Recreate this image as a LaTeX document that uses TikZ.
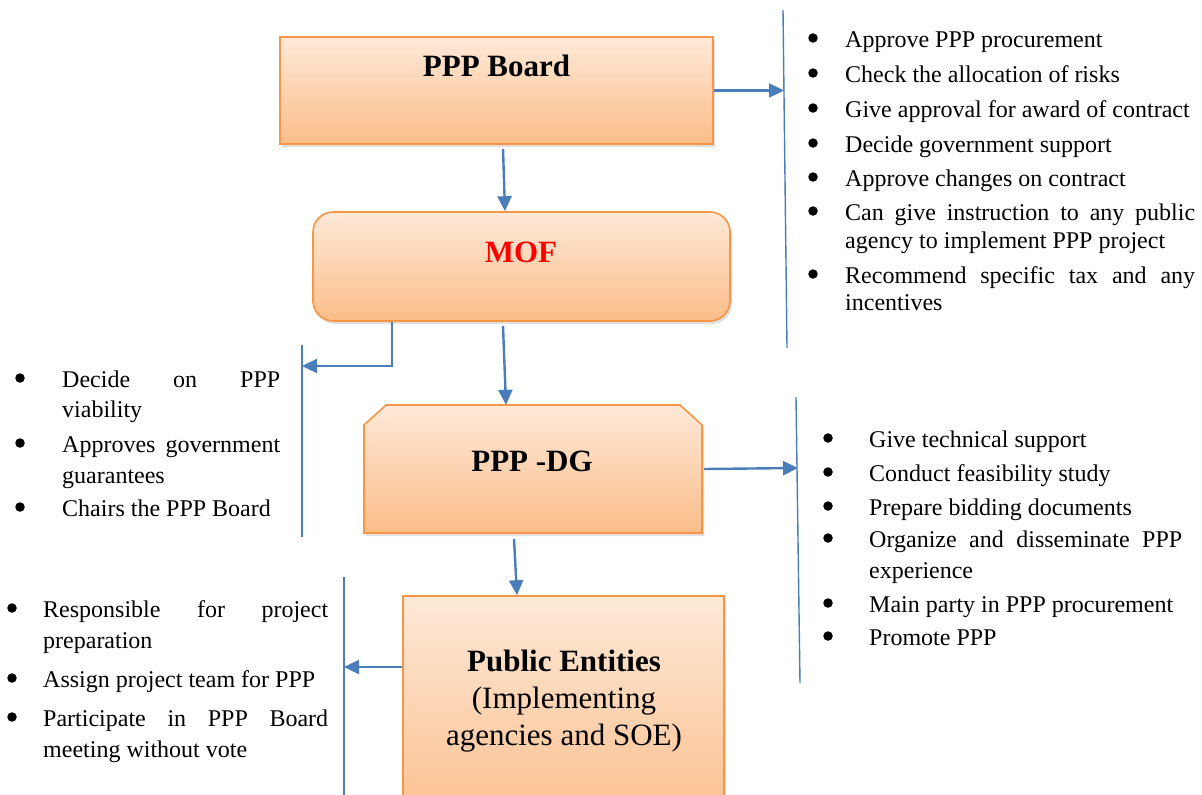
\documentclass[tikz,border=0pt]{standalone}
\usepackage{fontspec}
\setmainfont{Liberation Serif}
\usetikzlibrary{arrows.meta,shadows}

\definecolor{boxtop}{RGB}{254,233,216}
\definecolor{boxbot}{RGB}{251,189,137}
\definecolor{boxline}{RGB}{247,150,70}
\definecolor{flow}{RGB}{74,126,187}

\tikzset{
  orgfill/.style={draw=boxline, line width=1.6pt, top color=boxtop, bottom color=boxbot,
    drop shadow={shadow xshift=2pt, shadow yshift=-3pt, opacity=0.25}},
  orgbox/.style={orgfill, inner sep=0pt},
  title/.style={anchor=base, inner sep=0pt, font=\fontsize{31}{36}\selectfont\bfseries},
  subtitle/.style={anchor=base, inner sep=0pt, font=\fontsize{31}{36}\selectfont},
  txt/.style={anchor=base west, inner sep=0pt, font=\fontsize{24}{28}\selectfont},
  dot/.style={circle, fill=black, inner sep=0pt, minimum size=9.5pt},
  arr/.style={draw=flow, line width=2.4pt, -{Triangle[length=15pt,width=14pt]}},
  vline/.style={draw=flow, line width=1.4pt}
}

% bullet item: name, bullet x, text x, baseline y, text
\newcommand\bitem[5]{%
  \node[dot] (#1dot) at (#2,#4-9) {};
  \node[txt] (#1) at (#3,#4) {#5};}

\begin{document}
\begin{tikzpicture}[x=1pt,y=-1pt]
\useasboundingbox (0,0) rectangle (1202,795);
\clip (0,0) rectangle (1202,795);

% ---------- boxes ----------
\node[orgbox, rectangle, minimum width=433pt, minimum height=107pt] (board) at (496.5,90.5) {};
\node[title] (boardtxt) at (496.5,76) {PPP Board};

\node[orgbox, rectangle, rounded corners=20pt, minimum width=417pt, minimum height=109pt] (mof) at (521.5,266.5) {};
\node[title, text=red] (moftxt) at (521,262) {MOF};

% PPP-DG: box with both top corners cut off
\path[orgfill] (364,533) -- (364,425) -- (386,405) -- (680,405) -- (702,425) -- (702,533) -- cycle;
\node[rectangle, inner sep=0pt, minimum width=338pt, minimum height=128pt] (dg) at (533,469) {};
\node[title] (dgtxt) at (532,471) {PPP -DG};

\node[orgbox, rectangle, minimum width=321pt, minimum height=240pt] (pe) at (563.5,716) {};
\node[title] (petxt1) at (564,671) {Public Entities};
\node[subtitle] (petxt2) at (564,708) {(Implementing};
\node[subtitle] (petxt3) at (564,745) {agencies and SOE)};

% ---------- bracket lines ----------
\coordinate (r1t) at (783,10);  \coordinate (r1b) at (787,348);
\coordinate (l1t) at (302,345); \coordinate (l1b) at (302,537);
\coordinate (r2t) at (796,397); \coordinate (r2b) at (800,683);
\coordinate (l2t) at (344,577); \coordinate (l2b) at (344,800);
\draw[vline] (r1t) -- (r1b);
\draw[vline] (l1t) -- (l1b);
\draw[vline] (r2t) -- (r2b);
\draw[vline] (l2t) -- (l2b);

\coordinate (r1h) at (784,90.5);
\coordinate (l1h) at (302,366);
\coordinate (r2h) at (798,468);
\coordinate (l2h) at (344,667);

% ---------- connectors ----------
\draw[arr] (board.east) -- (r1h);
\draw[arr] ([xshift=6.5pt,yshift=-4pt]board.south) -- ([xshift=-16.5pt]mof.north);
\draw[arr] ([xshift=-129.5pt]mof.south) |- (l1h);
\draw[arr] ([xshift=-18.5pt,yshift=-4pt]mof.south) -- ([xshift=-27pt]dg.north);
\draw[arr] ([xshift=2pt]dg.east) -- (r2h);
\draw[arr] ([xshift=-19pt,yshift=-6pt]dg.south) -- ([xshift=-46.5pt]pe.north);
\draw[arr] (pe.west |- l2h) -- (l2h);

% ---------- PPP Board duties ----------
\bitem{a1}{813}{845}{47}{Approve PPP procurement}
\bitem{a2}{813}{845}{82}{Check the allocation of risks}
\bitem{a3}{813}{845}{117}{Give approval for award of contract}
\bitem{a4}{813}{845}{152}{Decide government support}
\bitem{a5}{813}{845}{186}{Approve changes on contract}
\bitem{a6}{813}{845}{220}{\makebox[350pt][s]{Can give instruction to any public}}
\node[txt] (a6b) at (845,248) {agency to implement PPP project};
\bitem{a7}{813}{845}{283}{\makebox[350pt][s]{Recommend specific tax and any}}
\node[txt] (a7b) at (845,310) {incentives};

% ---------- MOF duties ----------
\bitem{b1}{20}{62}{387}{\makebox[218pt][s]{Decide on PPP}}
\node[txt] (b1b) at (62,417) {viability};
\bitem{b2}{20}{62}{452}{\makebox[218pt][s]{Approves government}}
\node[txt] (b2b) at (62,483) {guarantees};
\bitem{b3}{20}{62}{516}{Chairs the PPP Board}

% ---------- PPP-DG duties ----------
\bitem{c1}{828}{869}{447}{Give technical support}
\bitem{c2}{828}{869}{481}{Conduct feasibility study}
\bitem{c3}{828}{869}{515}{Prepare bidding documents}
\bitem{c4}{828}{869}{547}{\makebox[313pt][s]{Organize and disseminate PPP}}
\node[txt] (c4b) at (869,578) {experience};
\bitem{c5}{828}{869}{612}{Main party in PPP procurement}
\bitem{c6}{828}{869}{645}{Promote PPP}

% ---------- Public entities duties ----------
\bitem{d1}{12}{43}{617}{\makebox[285pt][s]{Responsible for project}}
\node[txt] (d1b) at (43,648) {preparation};
\bitem{d2}{12}{43}{687}{Assign project team for PPP}
\bitem{d3}{12}{43}{726}{\makebox[285pt][s]{Participate in PPP Board}}
\node[txt] (d3b) at (43,757) {meeting without vote};

\end{tikzpicture}
\end{document}
